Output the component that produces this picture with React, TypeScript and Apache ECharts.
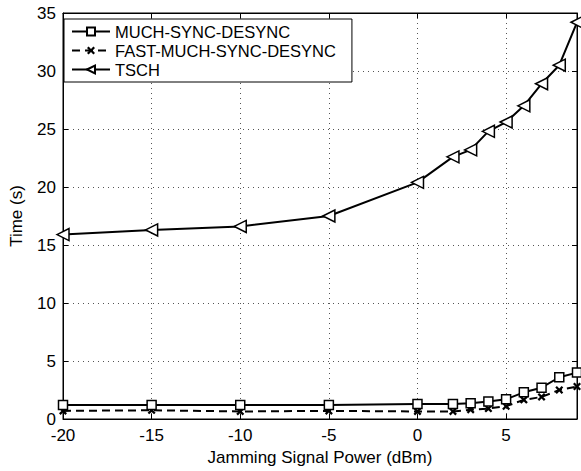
import React, { useEffect, useRef } from "react";
import * as echarts from "echarts";

const xValues = [-20, -15, -10, -5, 0, 2, 3, 4, 5, 6, 7, 8, 9];
const muchSyncDesync = [1.2, 1.2, 1.2, 1.2, 1.3, 1.3, 1.35, 1.5, 1.7, 2.3, 2.7, 3.6, 4.0];
const fastMuchSyncDesync = [0.7, 0.75, 0.65, 0.7, 0.65, 0.65, 0.8, 0.9, 1.1, 1.65, 1.9, 2.5, 2.8];
const tsch = [15.9, 16.3, 16.6, 17.5, 20.4, 22.6, 23.2, 24.8, 25.6, 27.0, 28.9, 30.5, 34.2];

const seriesNames = ["MUCH-SYNC-DESYNC", "FAST-MUCH-SYNC-DESYNC", "TSCH"];

const FONT = "Liberation Sans, Arial, Helvetica, sans-serif";
const X_SYMBOL =
  "path://M0,2 L2,0 L5,3 L8,0 L10,2 L7,5 L10,8 L8,10 L5,7 L2,10 L0,8 L3,5 Z";

export default function App() {
  const ref = useRef<HTMLDivElement>(null);
  useEffect(() => {
    if (!ref.current) return;
    const chart = echarts.init(ref.current, undefined, { renderer: "svg" });
    const pair = (ys: number[]) => xValues.map((x, i) => [x, ys[i]]);
    const axisCommon = {
      axisLine: { show: true, onZero: false, lineStyle: { color: "#000", width: 1 } },
      axisTick: { show: true, inside: true, length: 5, lineStyle: { color: "#000" } },
    };
    chart.setOption({
      animation: false,
      backgroundColor: "#fff",
      textStyle: { fontFamily: FONT },
      grid: {
        left: 59,
        top: 13,
        right: 4,
        bottom: 50,
        show: true,
        borderColor: "#000",
        borderWidth: 1,
        backgroundColor: "#fff",
      },
      legend: {
        orient: "vertical",
        left: 64,
        top: 19,
        backgroundColor: "#fff",
        borderColor: "#000",
        borderWidth: 1,
        borderRadius: 0,
        padding: [4, 16, 4, 7],
        itemGap: 2,
        itemWidth: 38,
        itemHeight: 10,
        textStyle: { fontSize: 16.5, fontFamily: FONT, color: "#000" },
        data: seriesNames,
      },
      xAxis: [
        {
          type: "value",
          min: -20,
          max: 9,
          interval: 5,
          name: "Jamming Signal Power (dBm)",
          nameLocation: "middle",
          nameGap: 30,
          nameTextStyle: { fontSize: 17, color: "#000", fontFamily: FONT },
          axisLabel: { fontSize: 17, color: "#000", margin: 8, showMaxLabel: false },
          splitLine: { show: true, lineStyle: { color: "#555", type: [1, 4], width: 1 } },
          ...axisCommon,
        },
        {
          type: "value",
          position: "top",
          min: -20,
          max: 9,
          interval: 5,
          axisLabel: { show: false },
          splitLine: { show: false },
          ...axisCommon,
        },
      ],
      yAxis: [
        {
          type: "value",
          min: 0,
          max: 35,
          interval: 5,
          name: "Time (s)",
          nameLocation: "middle",
          nameGap: 38,
          nameTextStyle: { fontSize: 17, color: "#000", fontFamily: FONT },
          axisLabel: { fontSize: 17, color: "#000", margin: 7 },
          splitLine: { show: true, lineStyle: { color: "#555", type: [1, 4], width: 1 } },
          ...axisCommon,
        },
        {
          type: "value",
          position: "right",
          min: 0,
          max: 35,
          interval: 5,
          axisLabel: { show: false },
          splitLine: { show: false },
          ...axisCommon,
        },
      ],
      series: [
        {
          name: seriesNames[0],
          type: "line",
          data: pair(muchSyncDesync),
          symbol: "rect",
          symbolSize: 9,
          lineStyle: { color: "#000", width: 2 },
          itemStyle: { color: "#fff", borderColor: "#000", borderWidth: 1.5 },
          z: 3,
        },
        {
          name: seriesNames[1],
          type: "line",
          data: pair(fastMuchSyncDesync),
          symbol: X_SYMBOL,
          symbolSize: 8,
          lineStyle: { color: "#000", width: 2, type: [8, 5] },
          itemStyle: { color: "#000" },
          z: 2,
        },
        {
          name: seriesNames[2],
          type: "line",
          data: pair(tsch),
          symbol: "triangle",
          symbolRotate: 90,
          symbolSize: 12,
          lineStyle: { color: "#000", width: 2 },
          itemStyle: { color: "#fff", borderColor: "#000", borderWidth: 1.5 },
          z: 4,
        },
      ],
    });
    return () => chart.dispose();
  }, []);
  return <div ref={ref} style={{ width: 581, height: 471, position: "absolute", left: 0, top: 0 }} />;
}
